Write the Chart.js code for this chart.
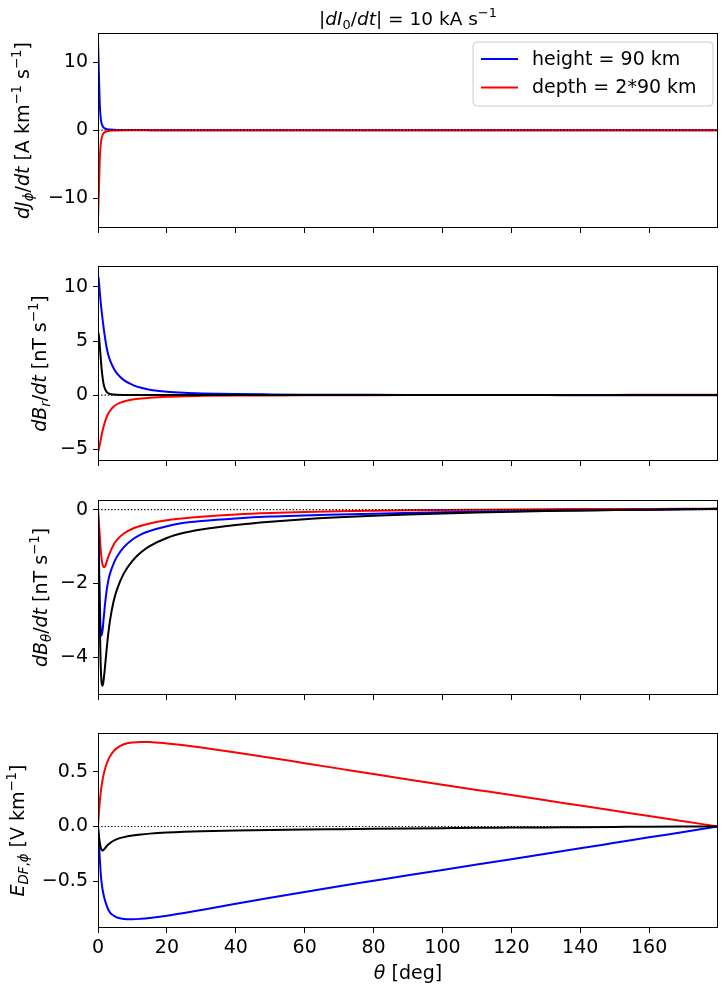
<!DOCTYPE html>
<html lang="en">
<head>
<meta charset="UTF-8">
<title>dI/dt response</title>
<script src="https://cdn.jsdelivr.net/npm/chart.js"></script>
<style>
  html, body { margin: 0; padding: 0; background: #fff; }
  #wrap { position: relative; width: 727px; height: 990px; }
  canvas { position: absolute; left: 0; }
</style>
</head>
<body>
<div id="wrap">
  <canvas id="c1" width="727" height="238" style="top:0px"></canvas>
  <canvas id="c2" width="727" height="215" style="top:256px"></canvas>
  <canvas id="c3" width="727" height="215" style="top:490px"></canvas>
  <canvas id="c4" width="727" height="267" style="top:723px"></canvas>
</div>
<script>
// angular distance [deg], denser near 0 where the curves are steep
const theta = [0, 0.25, 0.5, 0.75, 1, 1.3, 1.6, 2, 2.5, 3, 3.5, 4.5, 5.5, 7.5, 10, 12.5, 15, 20, 25, 30,
               40, 50, 60, 70, 80, 90, 100, 110, 120, 130, 140, 150, 160, 170, 180];

// dJ_phi/dt [A km^-1 s^-1]
const jHeight = [13.2, 8.5, 4.0, 2.0, 1.1, 0.65, 0.42, 0.26, 0.16, 0.11, 0.08, 0.05, 0.035, 0.02, 0.012, 0.008, 0.005, 0.003, 0.002, 0.001,
                 0, 0, 0, 0, 0, 0, 0, 0, 0, 0, 0, 0, 0, 0, 0];
const jDepth = [-13.1, -9.0, -4.5, -2.3, -1.3, -0.75, -0.48, -0.3, -0.19, -0.13, -0.09, -0.055, -0.04, -0.022, -0.013, -0.009, -0.006, -0.003, -0.002, -0.001,
                0, 0, 0, 0, 0, 0, 0, 0, 0, 0, 0, 0, 0, 0, 0];

// dB_r/dt [nT s^-1]
const brHeight = [11.1, 10.6, 9.6, 8.7, 7.9, 7.1, 6.3, 5.4, 4.4, 3.7, 3.2, 2.5, 2.0, 1.38, 0.95, 0.68, 0.5, 0.31, 0.21, 0.155,
                  0.09, 0.06, 0.04, 0.03, 0.02, 0.015, 0.01, 0.005, 0, -0.005, -0.01, -0.015, -0.02, -0.02, -0.02];
const brDepth = [-5.25, -5.0, -4.6, -4.2, -3.8, -3.35, -2.95, -2.5, -2.05, -1.7, -1.45, -1.08, -0.85, -0.6, -0.42, -0.31, -0.24, -0.15, -0.1, -0.075,
                 -0.045, -0.03, -0.02, -0.015, -0.01, -0.005, 0, 0.005, 0.01, 0.01, 0.015, 0.015, 0.02, 0.02, 0.02];
const brTotal = [5.86, 5.5, 4.6, 3.6, 2.6, 1.7, 1.05, 0.6, 0.3, 0.17, 0.1, 0.05, 0.03, 0.015, 0.008, 0.005, 0.003, 0.002, 0.001, 0,
                 0, 0, 0, 0, 0, 0, 0, 0, 0, 0, 0, 0, 0, 0, 0];

// dB_theta/dt [nT s^-1]
const btHeight = [0, -1.2, -2.4, -3.2, -3.42, -3.3, -3.0, -2.6, -2.2, -1.92, -1.73, -1.47, -1.28, -1.02, -0.81, -0.67, -0.58, -0.45, -0.36, -0.31,
                  -0.24, -0.19, -0.16, -0.135, -0.11, -0.09, -0.072, -0.057, -0.044, -0.032, -0.022, -0.012, -0.003, 0.007, 0.02];
const btDepth = [0, -0.35, -0.7, -1.05, -1.3, -1.48, -1.56, -1.55, -1.42, -1.28, -1.16, -0.96, -0.82, -0.65, -0.52, -0.44, -0.375, -0.29, -0.235, -0.195,
                 -0.135, -0.095, -0.068, -0.048, -0.033, -0.02, -0.01, -0.002, 0.005, 0.01, 0.014, 0.017, 0.019, 0.02, 0.02];
const btTotal = [0, -1.5, -3.0, -4.1, -4.65, -4.78, -4.65, -4.3, -3.8, -3.35, -3.0, -2.5, -2.17, -1.73, -1.39, -1.16, -0.99, -0.77, -0.63, -0.54,
                 -0.42, -0.33, -0.26, -0.21, -0.17, -0.135, -0.105, -0.08, -0.058, -0.04, -0.025, -0.012, -0.002, 0.008, 0.02];

// E_DF,phi [V km^-1]
const eHeight = [0, -0.14, -0.28, -0.41, -0.5, -0.57, -0.62, -0.67, -0.72, -0.76, -0.785, -0.812, -0.83, -0.843, -0.846, -0.842, -0.835, -0.815, -0.79, -0.762,
                 -0.705, -0.65, -0.597, -0.545, -0.495, -0.445, -0.396, -0.347, -0.298, -0.248, -0.199, -0.149, -0.099, -0.05, 0];
const eDepth = [0, 0.12, 0.22, 0.3, 0.36, 0.42, 0.47, 0.52, 0.57, 0.61, 0.64, 0.685, 0.715, 0.75, 0.767, 0.772, 0.771, 0.758, 0.741, 0.721,
                0.676, 0.628, 0.578, 0.528, 0.478, 0.429, 0.381, 0.334, 0.287, 0.239, 0.191, 0.143, 0.096, 0.048, 0];
const eTotal = [0, -0.08, -0.14, -0.185, -0.21, -0.22, -0.215, -0.2, -0.18, -0.165, -0.15, -0.13, -0.115, -0.097, -0.082, -0.072, -0.065, -0.055, -0.048, -0.043,
                -0.036, -0.031, -0.027, -0.024, -0.021, -0.018, -0.015, -0.012, -0.01, -0.008, -0.006, -0.004, -0.002, -0.001, 0];

// zero reference line
const zeroX = [0, 180];
const zeroY = [0, 0];

// ticks
const xTicks = [0, 20, 40, 60, 80, 100, 120, 140, 160];
const yTicksJ = [-10, 0, 10];
const yTicksBr = [-5, 0, 5, 10];
const yTicksBt = [-4, -2, 0];
const yTicksE = [-0.5, 0, 0.5];

const labelHeight = 'height = 90 km';
const labelDepth = 'depth = 2*90 km';

const FAMILY = '"DejaVu Sans", sans-serif';
const FS = 19;        // tick labels, axis labels
const FS_TITLE = 18.5;
const FS_LEGEND = 19;

function fontFor(st, size) {
  const small = st === 's' || st === 'is' || st === 'sup';
  const it = st === 'i' || st === 'is';
  return (it ? 'italic ' : '') + (small ? size * 0.7 : size) + 'px ' + FAMILY;
}
function shiftFor(st, size) {
  if (st === 's' || st === 'is') return size * 0.22;
  if (st === 'sup') return -size * 0.42;
  return 0;
}
// draw mixed italic / sub / superscript text centred on (x, y)
function drawRich(ctx, segs, x, y, rotated, size) {
  ctx.save();
  let w = 0;
  segs.forEach(s => { ctx.font = fontFor(s[1], size); w += ctx.measureText(s[0]).width; });
  ctx.translate(x, y);
  if (rotated) ctx.rotate(-Math.PI / 2);
  ctx.fillStyle = '#000';
  ctx.textBaseline = 'alphabetic';
  ctx.textAlign = 'left';
  let cx = -w / 2;
  segs.forEach(s => {
    ctx.font = fontFor(s[1], size);
    ctx.fillText(s[0], cx, shiftFor(s[1], size));
    cx += ctx.measureText(s[0]).width;
  });
  ctx.restore();
}

const decor = {
  id: 'decor',
  afterDraw(chart, args, opts) {
    const ctx = chart.ctx;
    const a = chart.chartArea;
    ctx.save();
    ctx.strokeStyle = '#000';
    ctx.lineWidth = 1;
    ctx.strokeRect(Math.round(a.left) + 0.5, Math.round(a.top) + 0.5,
                   Math.round(a.right - a.left) - 1, Math.round(a.bottom - a.top) - 1);
    ctx.restore();

    if (opts.yLabel) drawRich(ctx, opts.yLabel, opts.yLabelX, (a.top + a.bottom) / 2, true, FS);
    if (opts.title) drawRich(ctx, opts.title, (a.left + a.right) / 2, opts.titleY, false, FS_TITLE);
    if (opts.xLabel) drawRich(ctx, opts.xLabel, (a.left + a.right) / 2, a.bottom + opts.xLabelDy, false, FS);

    if (opts.legend) {
      const lg = opts.legend;
      const items = chart.data.datasets.filter(d => d.label);
      ctx.save();
      const r = 4;
      ctx.beginPath();
      ctx.moveTo(lg.x + r, lg.y);
      ctx.arcTo(lg.x + lg.w, lg.y, lg.x + lg.w, lg.y + lg.h, r);
      ctx.arcTo(lg.x + lg.w, lg.y + lg.h, lg.x, lg.y + lg.h, r);
      ctx.arcTo(lg.x, lg.y + lg.h, lg.x, lg.y, r);
      ctx.arcTo(lg.x, lg.y, lg.x + lg.w, lg.y, r);
      ctx.closePath();
      ctx.fillStyle = 'rgba(255,255,255,0.8)';
      ctx.fill();
      ctx.strokeStyle = '#cccccc';
      ctx.lineWidth = 1;
      ctx.stroke();
      items.forEach((d, i) => {
        const cy = lg.rowY + i * lg.rowGap;
        ctx.strokeStyle = d.borderColor;
        ctx.lineWidth = 2;
        ctx.beginPath();
        ctx.moveTo(lg.x + 8, cy);
        ctx.lineTo(lg.x + 45, cy);
        ctx.stroke();
        ctx.fillStyle = '#000';
        ctx.font = FS_LEGEND + 'px ' + FAMILY;
        ctx.textBaseline = 'middle';
        ctx.textAlign = 'left';
        ctx.fillText(d.label, lg.x + 59, cy + 1);
      });
      ctx.restore();
    }
  }
};

function series(vals) {
  return theta.map((t, i) => ({ x: t, y: vals[i] }));
}
function line(vals, color, label, order) {
  return { label: label, data: series(vals), borderColor: color, borderWidth: 2, order: order,
           pointRadius: 0, fill: false, cubicInterpolationMode: 'monotone' };
}
function zeroLine() {
  return { data: zeroX.map((x, i) => ({ x: x, y: zeroY[i] })), borderColor: '#000', borderWidth: 1.2,
           borderDash: [1.3, 2], pointRadius: 0, fill: false, order: 0 };
}
function fmt(dec) {
  return v => (v < 0 ? '\u2212' : '') + Math.abs(v).toFixed(dec);
}

function makeChart(id, c) {
  return new Chart(document.getElementById(id), {
    type: 'line',
    data: { datasets: c.datasets },
    options: {
      responsive: false,
      animation: false,
      devicePixelRatio: 1,
      layout: { padding: { top: c.padTop, right: 9, left: 0, bottom: 0 } },
      plugins: { legend: { display: false }, tooltip: { enabled: false }, decor: c.decor },
      scales: {
        x: {
          type: 'linear', min: 0, max: 180,
          afterBuildTicks: s => { s.ticks = xTicks.map(v => ({ value: v })); },
          afterFit: s => { s.height = c.xHeight; s.paddingLeft = 0; s.paddingRight = 0; },
          grid: { drawOnChartArea: false, drawTicks: true, tickLength: 5, color: '#000', lineWidth: 1 },
          border: { display: false },
          ticks: { display: c.xLabels, autoSkip: false, maxRotation: 0, padding: 4, color: '#000',
                   font: { family: FAMILY, size: FS }, callback: fmt(0) }
        },
        y: {
          type: 'linear', min: c.yMin, max: c.yMax,
          afterBuildTicks: s => { s.ticks = c.yTicks.map(v => ({ value: v })); },
          afterFit: s => { s.width = 98; s.paddingTop = 0; s.paddingBottom = 0; },
          grid: { drawOnChartArea: false, drawTicks: true, tickLength: 5, color: '#000', lineWidth: 1 },
          border: { display: false },
          ticks: { autoSkip: false, padding: 5, color: '#000', font: { family: FAMILY, size: FS }, callback: fmt(c.dec) }
        }
      }
    },
    plugins: [decor]
  });
}

makeChart('c1', {
  padTop: 33, xHeight: 10, xLabels: false, yMin: -14.4, yMax: 14.3, yTicks: yTicksJ, dec: 0,
  datasets: [zeroLine(), line(jHeight, '#0000ff', labelHeight, 3), line(jDepth, '#ff0000', labelDepth, 2)],
  decor: {
    yLabel: [['dJ', 'i'], ['\u03d5', 'is'], ['/', 'r'], ['dt', 'i'], [' [A km', 'r'], ['\u22121', 'sup'], [' s', 'r'], ['\u22121', 'sup'], [']', 'r']],
    yLabelX: 29,
    title: [['|', 'r'], ['dI', 'i'], ['0', 's'], ['/', 'r'], ['dt', 'i'], ['| = 10', 'r'], [' kA s', 'r'], ['\u22121', 'sup']],
    titleY: 25,
    legend: { x: 473, y: 42, w: 240, h: 64, rowY: 59, rowGap: 28.5 }
  }
});

makeChart('c2', {
  padTop: 10, xHeight: 10, xLabels: false, yMin: -6.1, yMax: 11.94, yTicks: yTicksBr, dec: 0,
  datasets: [zeroLine(), line(brTotal, '#000000', null, 1), line(brDepth, '#ff0000', null, 2), line(brHeight, '#0000ff', null, 3)],
  decor: {
    yLabel: [['dB', 'i'], ['r', 'is'], ['/', 'r'], ['dt', 'i'], [' [nT s', 'r'], ['\u22121', 'sup'], [']', 'r']],
    yLabelX: 46
  }
});

makeChart('c3', {
  padTop: 10, xHeight: 10, xLabels: false, yMin: -5.03, yMax: 0.26, yTicks: yTicksBt, dec: 0,
  datasets: [zeroLine(), line(btTotal, '#000000', null, 1), line(btHeight, '#0000ff', null, 2), line(btDepth, '#ff0000', null, 3)],
  decor: {
    yLabel: [['dB', 'i'], ['\u03b8', 'is'], ['/', 'r'], ['dt', 'i'], [' [nT s', 'r'], ['\u22121', 'sup'], [']', 'r']],
    yLabelX: 47
  }
});

makeChart('c4', {
  padTop: 10, xHeight: 62, xLabels: true, yMin: -0.926, yMax: 0.853, yTicks: yTicksE, dec: 1,
  datasets: [zeroLine(), line(eTotal, '#000000', null, 1), line(eHeight, '#0000ff', null, 2), line(eDepth, '#ff0000', null, 3)],
  decor: {
    yLabel: [['E', 'i'], ['DF', 'is'], [',', 's'], ['\u03d5', 'is'], [' [V km', 'r'], ['\u22121', 'sup'], [']', 'r']],
    yLabelX: 23.5,
    xLabel: [['\u03b8', 'i'], [' [deg]', 'r']],
    xLabelDy: 51
  }
});
</script>
</body>
</html>
